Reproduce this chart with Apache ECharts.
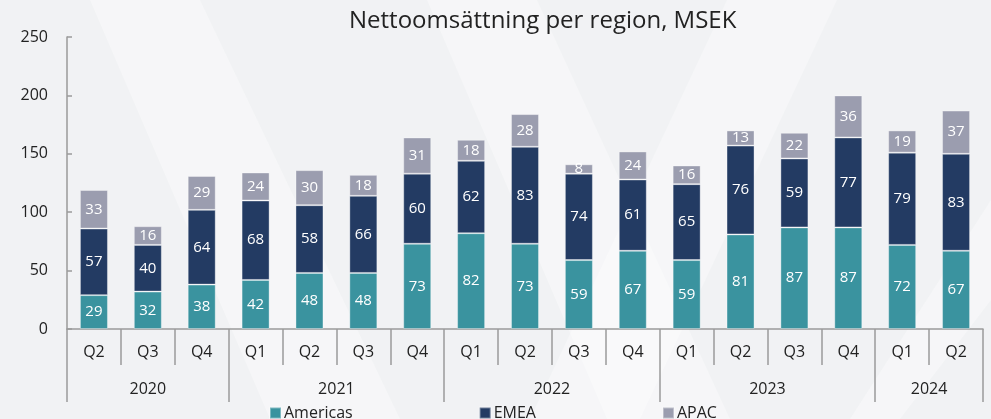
<!DOCTYPE html>
<html>
<head>
<meta charset="utf-8">
<script src="https://cdn.jsdelivr.net/npm/echarts@6/dist/echarts.min.js"></script>
<style>
html,body{margin:0;padding:0;background:#f1f2f4;}
#c{width:991px;height:419px;}
</style>
</head>
<body>
<div id="c"></div>
<script>
const quarters = ['Q2','Q3','Q4','Q1','Q2','Q3','Q4','Q1','Q2','Q3','Q4','Q1','Q2','Q3','Q4','Q1','Q2'];
const years = ['2020','2021','2022','2023','2024'];
const yearCounts = [3,4,4,4,2];
const americas = [29,32,38,42,48,48,73,82,73,59,67,59,81,87,87,72,67];
const emea = [57,40,64,68,58,66,60,62,83,74,61,65,76,59,77,79,83];
const apac = [33,16,29,24,30,18,31,18,28,8,24,16,13,22,36,19,37];
const yTicks = [0,50,100,150,200,250];

const bounds = [0];
const mids = [];
yearCounts.forEach(function(n){
  const s = bounds[bounds.length-1];
  mids.push(s + n/2);
  bounds.push(s + n);
});

const chart = echarts.init(document.getElementById('c'), null, {renderer:'canvas'});
const font = '"Open Sans", "Noto Sans", sans-serif';
const lbl = {show:true, position:'inside', color:'#ffffff', fontSize:15, fontFamily:font};
const border = {borderColor:'rgba(255,255,255,0.35)', borderWidth:1};
const wm = 'rgba(255,255,255,0.35)';

chart.setOption({
  backgroundColor:'#f1f2f4',
  animation:false,
  textStyle:{fontFamily:font},
  graphic:[
    {type:'polygon', silent:true, z:-10, shape:{points:[[90,0],[200,0],[400,419],[270,419]]}, style:{fill:wm}},
    {type:'polygon', silent:true, z:-10, shape:{points:[[427,0],[537,0],[730,419],[607,419]]}, style:{fill:wm}},
    {type:'polygon', silent:true, z:-10, shape:{points:[[727,0],[837,0],[640,419],[530,419]]}, style:{fill:wm}},
    {type:'polygon', silent:true, z:-10, shape:{points:[[991,200],[991,300],[900,419],[850,419]]}, style:{fill:wm}}
  ],
  title:{
    text:'Nettoomsättning per region, MSEK',
    left:344, top:4,
    textStyle:{fontSize:24, fontWeight:'normal', color:'#222', fontFamily:font}
  },
  legend:{
    data:['Americas','EMEA','APAC'],
    left:264, top:400,
    itemGap:126, itemWidth:11, itemHeight:11, icon:'rect',
    textStyle:{fontSize:16, color:'#222', fontFamily:font, padding:[0,0,0,-2]}
  },
  grid:{left:67, right:8, top:37, bottom:90},
  xAxis:[
    {
      type:'category', data:quarters, position:'bottom',
      axisLine:{show:true, lineStyle:{color:'#9a9a9a', width:1.5}},
      axisTick:{show:true, interval:0, length:36, lineStyle:{color:'#9a9a9a', width:1.5}},
      axisLabel:{interval:0, margin:15, fontSize:16, color:'#222', fontFamily:font}
    },
    {
      type:'value', position:'bottom', min:0, max:17,
      axisLine:{show:false},
      splitLine:{show:false},
      axisTick:{show:true, length:73, customValues:bounds, lineStyle:{color:'#9a9a9a', width:1.5}},
      axisLabel:{show:true, margin:52, fontSize:16, color:'#222', fontFamily:font,
        customValues:mids,
        formatter:function(v){ const i = mids.indexOf(v); return i>=0 ? years[i] : ''; }}
    }
  ],
  yAxis:{
    type:'value', min:yTicks[0], max:yTicks[yTicks.length-1], interval:50,
    axisLine:{show:true, lineStyle:{color:'#9a9a9a', width:1.5}},
    axisTick:{show:true, inside:true, length:5, lineStyle:{color:'#9a9a9a', width:1.5}},
    splitLine:{show:false},
    axisLabel:{margin:19, fontSize:16, color:'#222', fontFamily:font}
  },
  series:[
    {name:'Americas', type:'bar', stack:'t', data:americas, barWidth:28, itemStyle:Object.assign({color:'#3a939f'}, border), label:lbl},
    {name:'EMEA', type:'bar', stack:'t', data:emea, barWidth:28, itemStyle:Object.assign({color:'#233b63'}, border), label:lbl},
    {name:'APAC', type:'bar', stack:'t', data:apac, barWidth:28, itemStyle:Object.assign({color:'#9b9daf'}, border), label:lbl}
  ]
});
</script>
</body>
</html>
